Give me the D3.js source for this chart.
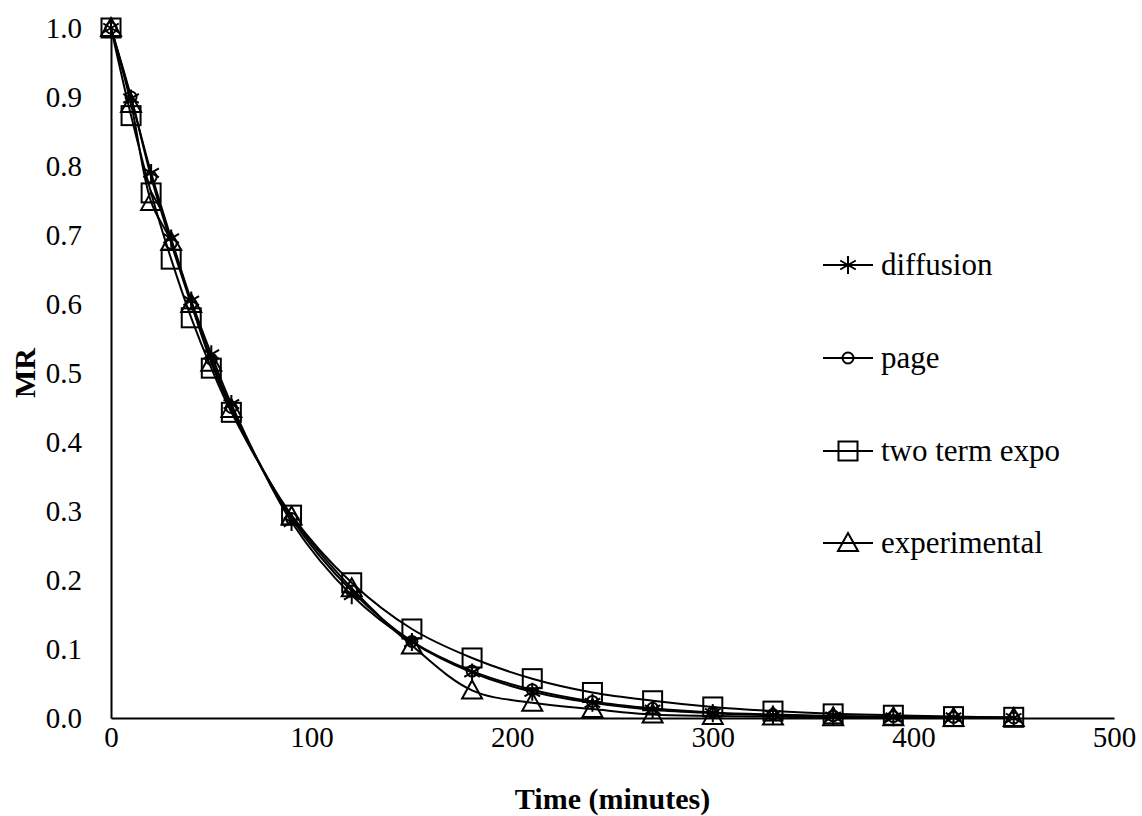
<!DOCTYPE html>
<html>
<head>
<meta charset="utf-8">
<script src="https://cdn.jsdelivr.net/npm/d3@7"></script>
<style>
  body { margin: 0; background: #fff; }
  svg text { font-family: "Liberation Serif", "Times New Roman", Times, "DejaVu Serif", serif !important; fill: #000; }
</style>
</head>
<body>
<div id="chart"></div>
<script>
// drying time points (minutes)
const time = [0, 10, 20, 30, 40, 50, 60, 90, 120, 150, 180, 210, 240, 270, 300, 330, 360, 390, 420, 450];

// moisture ratio per model
const diffusion = [1.0, 0.898, 0.790, 0.695, 0.605, 0.527, 0.455, 0.284, 0.178, 0.110, 0.066, 0.038, 0.022, 0.012, 0.007, 0.004, 0.002, 0.001, 0.001, 0.000];
const page = [1.0, 0.900, 0.784, 0.688, 0.600, 0.520, 0.450, 0.289, 0.184, 0.111, 0.068, 0.041, 0.024, 0.014, 0.008, 0.005, 0.003, 0.002, 0.001, 0.000];
const twoTermExpo = [1.0, 0.873, 0.761, 0.665, 0.580, 0.507, 0.443, 0.294, 0.196, 0.129, 0.087, 0.057, 0.037, 0.025, 0.016, 0.010, 0.006, 0.004, 0.002, 0.001];
const experimental = [1.0, 0.890, 0.748, 0.690, 0.600, 0.515, 0.448, 0.292, 0.188, 0.105, 0.040, 0.022, 0.013, 0.005, 0.003, 0.002, 0.001, 0.001, 0.000, 0.000];

const seriesNames = ["diffusion", "page", "two term expo", "experimental"];
const seriesMarkers = ["star", "circle", "square", "triangle"];
const seriesValues = [diffusion, page, twoTermExpo, experimental];

const xTicks = [0, 100, 200, 300, 400, 500];
const yTicks = [0, 0.1, 0.2, 0.3, 0.4, 0.5, 0.6, 0.7, 0.8, 0.9, 1.0];

const FONT = '"Liberation Serif", "Times New Roman", Times, "DejaVu Serif", serif';

const W = 1142, H = 816;
const margin = {top: 28, right: 28, bottom: 98, left: 111};
const width = W - margin.left - margin.right;
const height = H - margin.top - margin.bottom;

const svg = d3.select("#chart").append("svg")
  .attr("width", W)
  .attr("height", H)
  .attr("font-family", FONT);

const g = svg.append("g")
  .attr("transform", "translate(" + margin.left + "," + margin.top + ")");

const x = d3.scaleLinear().domain([0, 500]).range([0, width]);
const y = d3.scaleLinear().domain([0, 1]).range([height, 0]);

// axes
const yAxis = g.append("g")
  .call(d3.axisLeft(y).tickValues(yTicks).tickSize(0).tickPadding(29).tickFormat(d3.format(".1f")));
yAxis.attr("font-family", FONT);
yAxis.select(".domain").attr("stroke", "#000").attr("stroke-width", 2);
yAxis.selectAll(".tick text").attr("font-size", 29).attr("dy", "0.34em");

const xAxis = g.append("g")
  .attr("transform", "translate(0," + height + ")")
  .call(d3.axisBottom(x).tickValues(xTicks).tickSize(0).tickPadding(26).tickFormat(d3.format("d")));
xAxis.attr("font-family", FONT);
xAxis.select(".domain").attr("stroke", "#000").attr("stroke-width", 2);
xAxis.selectAll(".tick text").attr("font-size", 29).attr("dy", "0.1em");

// axis titles
svg.append("text")
  .attr("x", margin.left + x(250))
  .attr("y", 809)
  .attr("text-anchor", "middle")
  .attr("font-size", 30)
  .attr("font-weight", "bold")
  .text("Time (minutes)");

svg.append("text")
  .attr("transform", "translate(35," + (margin.top + y(0.5)) + ") rotate(-90)")
  .attr("text-anchor", "middle")
  .attr("font-size", 30)
  .attr("font-weight", "bold")
  .text("MR");

// markers
function drawMarker(sel, type) {
  if (type === "star") {
    const r = 9;
    const d = r * Math.cos(Math.PI / 6), e = r * Math.sin(Math.PI / 6);
    sel.append("path")
      .attr("d", `M0,${-r}L0,${r}M${-d},${-e}L${d},${e}M${-d},${e}L${d},${-e}`)
      .attr("fill", "none").attr("stroke", "#000").attr("stroke-width", 2);
  } else if (type === "circle") {
    sel.append("circle").attr("r", 5.5)
      .attr("fill", "none").attr("stroke", "#000").attr("stroke-width", 2);
  } else if (type === "square") {
    sel.append("rect").attr("x", -9.5).attr("y", -9.5).attr("width", 19).attr("height", 19)
      .attr("fill", "none").attr("stroke", "#000").attr("stroke-width", 2);
  } else if (type === "triangle") {
    sel.append("path").attr("d", "M0,-10L10,8L-10,8Z")
      .attr("fill", "none").attr("stroke", "#000").attr("stroke-width", 2);
  }
}

const line = d3.line()
  .x((d) => x(d.t))
  .y((d) => y(d.v))
  .curve(d3.curveCatmullRom.alpha(0.5));

seriesValues.forEach((vals, i) => {
  const data = time.map((t, j) => ({t: t, v: vals[j]}));
  g.append("path")
    .datum(data)
    .attr("d", line)
    .attr("fill", "none")
    .attr("stroke", "#000")
    .attr("stroke-width", 2);

  g.selectAll(".m" + i).data(data)
    .enter()
    .append("g")
    .attr("class", "m" + i)
    .attr("transform", (d) => "translate(" + x(d.t) + "," + y(d.v) + ")")
    .each(function() { drawMarker(d3.select(this), seriesMarkers[i]); });
});

// legend
const legendY = [265, 358, 451, 543];
const legend = svg.append("g").attr("class", "legend");
seriesNames.forEach((name, i) => {
  const row = legend.append("g").attr("transform", "translate(848," + legendY[i] + ")");
  row.append("line")
    .attr("x1", -25).attr("x2", 25)
    .attr("stroke", "#000").attr("stroke-width", 2);
  drawMarker(row, seriesMarkers[i]);
  row.append("text")
    .attr("x", 33)
    .attr("y", 10)
    .attr("font-size", 31)
    .text(name);
});
</script>
</body>
</html>
